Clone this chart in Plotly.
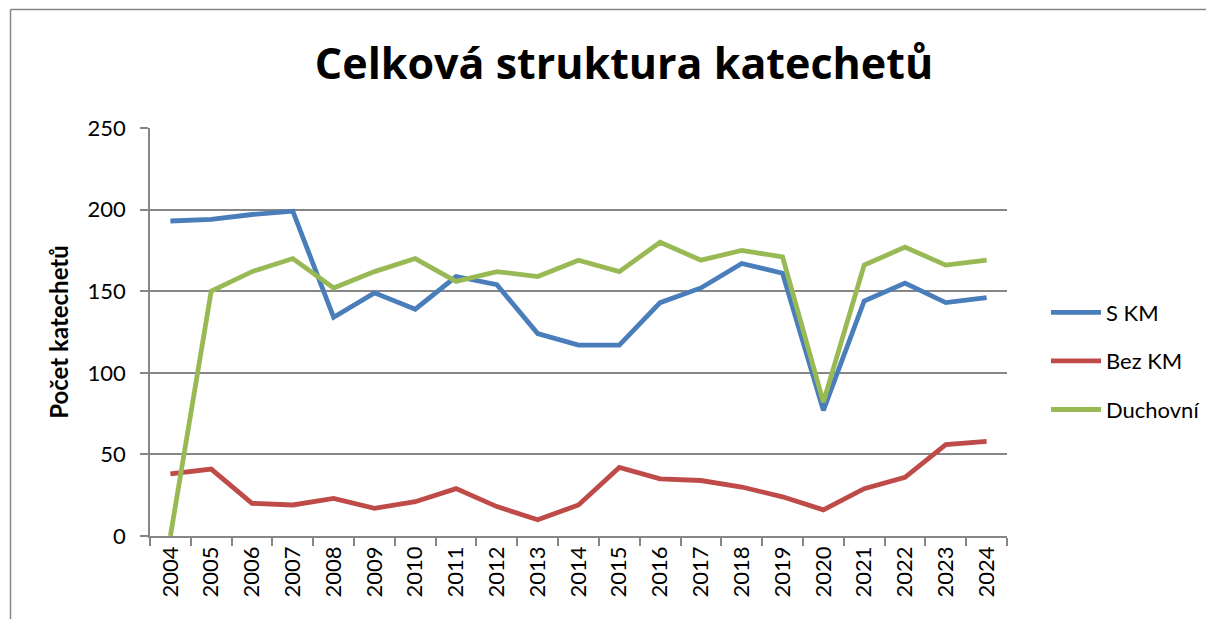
import plotly.graph_objects as go

years = [str(y) for y in range(2004, 2025)]
s_km = [193, 194, 197, 199, 134, 149, 139, 159, 154, 124, 117, 117, 143, 152, 167, 161, 77, 144, 155, 143, 146]
bez_km = [38, 41, 20, 19, 23, 17, 21, 29, 18, 10, 19, 42, 35, 34, 30, 24, 16, 29, 36, 56, 58]
duchovni = [0, 150, 162, 170, 152, 162, 170, 156, 162, 159, 169, 162, 180, 169, 175, 171, 82, 166, 177, 166, 169]
y_ticks = [0, 50, 100, 150, 200, 250]

series = [("S KM", s_km, "#4A7EBB"), ("Bez KM", bez_km, "#BE4B48"), ("Duchovní", duchovni, "#98B954")]

FONT = "Lato"
fig = go.Figure()
for name, vals, col in series:
    fig.add_trace(go.Scatter(x=years, y=vals, name=name, mode="lines", legendgroup=name,
                             line=dict(color=col, width=4.8)))

OFF = 8  # page body margin
W, H = 1214 - OFF, 619 - OFF
# plot area in page pixels
PX0, PX1, PY0, PY1 = 150, 1007, 128, 536
L, T = PX0 - OFF, PY0 - OFF
R, B = W - (PX1 - OFF), H - (PY1 - OFF)
pw, ph = PX1 - PX0, PY1 - PY0

def px_x(px):
    return (px - PX0) / pw

def px_y(py):
    return (PY1 - py) / ph

fig.update_layout(
    width=W, height=H,
    margin=dict(l=L, r=R, t=T, b=B),
    paper_bgcolor="white", plot_bgcolor="white",
    font=dict(family=FONT, size=22, color="black"),
    title=dict(text="<b>Celková struktura katechetů</b>", x=(624 - OFF) / W, xref="container", xanchor="center",
               y=1 - (64 - OFF) / H, yref="container", yanchor="middle",
               font=dict(family="Open Sans", size=43, color="black")),
    legend=dict(x=(1046 - OFF) / W, xref="container", y=1 - (361 - OFF) / H, yref="container",
                xanchor="left", yanchor="middle",
                font=dict(family=FONT, size=22, color="black"), tracegroupgap=17,
                itemwidth=50, bgcolor="rgba(0,0,0,0)"),
    showlegend=True,
)
fig.update_xaxes(type="category", showline=True, linecolor="#868686", linewidth=1.5,
                 ticks="outside", tickson="boundaries", ticklen=8, tickcolor="#868686", tickwidth=1.5,
                 tickangle=-90, showgrid=False, tickfont=dict(family=FONT, size=22),
                 range=[-0.5, len(years) - 0.5])
fig.update_yaxes(range=[0, 250], tickvals=y_ticks, showline=True, linecolor="#868686", linewidth=1.5,
                 ticks="outside", ticklen=8, tickcolor="#868686", tickwidth=1.5,
                 showgrid=True, gridcolor="#868686", gridwidth=1.5, zeroline=False,
                 tickfont=dict(family=FONT, size=22), ticklabelstandoff=10,
                 title=dict(text="<b>Počet katechetů</b>", font=dict(family=FONT, size=24), standoff=12))

# outer chart frame (top and left edges)
fig.add_shape(type="line", xref="paper", yref="paper", x0=px_x(10.5), x1=px_x(1240),
              y0=px_y(9.5), y1=px_y(9.5), line=dict(color="#868686", width=1.5))
fig.add_shape(type="line", xref="paper", yref="paper", x0=px_x(10.5), x1=px_x(10.5),
              y0=px_y(9.5), y1=px_y(640), line=dict(color="#868686", width=1.5))

fig.write_html("out.html")
